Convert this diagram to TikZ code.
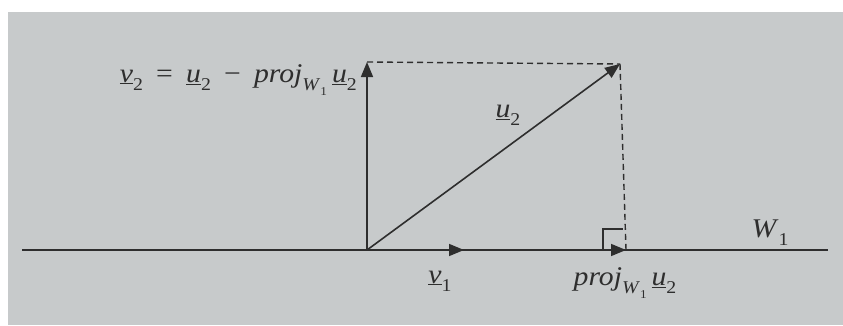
\documentclass[tikz,border=0pt]{standalone}
\usepackage{fontspec}
\setmainfont{Liberation Serif}
\usetikzlibrary{arrows.meta}
\definecolor{paper}{HTML}{C7CACB}
\definecolor{ink}{HTML}{2E2E2E}
\newcommand\lowsub[1]{\raisebox{-0.32em}{\fontsize{18}{20}\selectfont #1}}
\newcommand\lowsubsub[1]{\raisebox{-0.25em}{\fontsize{12}{14}\selectfont #1}}
\newcommand\uvec[1]{\underline{\textit{#1}}}
\newcommand\projW{\textit{proj}\lowsub{\textit{W}\lowsubsub{1}}}
\newcommand\gap{\hspace{12pt}}
\tikzset{
  vec/.style={line width=1.6pt, draw=ink, -{Triangle[length=15pt,width=12pt]}},
  base/.style={line width=1.6pt, draw=ink},
  guide/.style={line width=1.4pt, draw=ink, dash pattern=on 6pt off 4pt},
  lab/.style={text=ink, font=\fontsize{27}{32}\selectfont, inner sep=0pt, xscale=1.1, transform shape}
}
\begin{document}
\begin{tikzpicture}[x=1pt,y=1pt]
\useasboundingbox (0,0) rectangle (843,325);
\fill[white] (0,0) rectangle (843,325);
\fill[paper] (8,0) rectangle (843,313);
% points
\coordinate (L) at (22,75);
\coordinate (R) at (828,75);
\coordinate (O) at (367,75);
\coordinate (V2) at (367,263);
\coordinate (U2) at (620,261);
\coordinate (P) at (626,75);
\coordinate (V1) at (464,75);
\coordinate (S1) at (603,75);
\coordinate (S2) at (603,96);
\coordinate (S3) at (623,96);
% base line W1
\draw[base] (L) -- (R);
% dashed guides
\draw[guide] (V2) -- (U2);
\draw[guide] (U2) -- (P);
% right angle mark
\draw[base, line width=1.3pt] (S1) -- (S2) -- (S3);
% vectors
\draw[vec] (O) -- (V2);
\draw[vec] (O) -- (U2);
\draw[vec] (O) -- (V1);
\draw[vec] (O) -- (P);
% labels
\node[lab, anchor=base east] (tv2) at (357,243) {\uvec{v}\lowsub{2}\gap=\gap\uvec{u}\lowsub{2}\gap−\gap\projW\,\uvec{u}\lowsub{2}};
\node[lab, anchor=base] (tu2) at (508,208) {\uvec{u}\lowsub{2}};
\node[lab, anchor=base] (tv1) at (440,42) {\uvec{v}\lowsub{1}};
\node[lab, anchor=base] (tp) at (625,40) {\projW\,\uvec{u}\lowsub{2}};
\node[lab, anchor=base] (tw) at (770,88) {\textit{W}\lowsub{1}};
\end{tikzpicture}
\end{document}
